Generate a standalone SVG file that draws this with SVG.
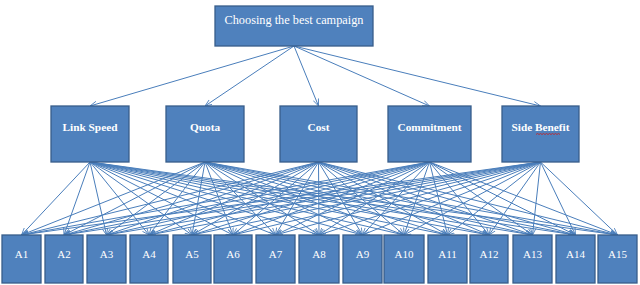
<svg xmlns="http://www.w3.org/2000/svg" width="640" height="285" viewBox="0 0 640 285">
<style>
.box{fill:#4f81bd;stroke:#385d8a;stroke-width:1.3}
.t{fill:#fff;font-family:"Liberation Serif","Times New Roman",serif;text-anchor:middle}
.top{font-size:12.3px}
.mid{font-size:11.3px;font-weight:bold}
.a{font-size:11px}
.c line{stroke:#4a7ebb;stroke-width:1;marker-end:url(#ah)}
</style>
<defs>
<marker id="ah" viewBox="0 0 10 10" refX="10" refY="5" markerWidth="7" markerHeight="7" orient="auto" markerUnits="userSpaceOnUse">
<path d="M0,1 L10,5 L0,9" fill="none" stroke="#4a7ebb" stroke-width="1.2"/>
</marker>
</defs>
<rect width="640" height="285" fill="#fff"/>
<g class="c" id="connectors">
<line x1="294" y1="46" x2="90" y2="106"/>
<line x1="294" y1="46" x2="205" y2="106"/>
<line x1="294" y1="46" x2="318.5" y2="106"/>
<line x1="294" y1="46" x2="429.5" y2="106"/>
<line x1="294" y1="46" x2="540.5" y2="106"/>
<line x1="90" y1="162" x2="21.5" y2="235"/><line x1="90" y1="162" x2="64" y2="235"/><line x1="90" y1="162" x2="106.5" y2="235"/><line x1="90" y1="162" x2="149" y2="235"/><line x1="90" y1="162" x2="192" y2="235"/><line x1="90" y1="162" x2="233" y2="235"/><line x1="90" y1="162" x2="275.5" y2="235"/><line x1="90" y1="162" x2="319" y2="235"/><line x1="90" y1="162" x2="362.5" y2="235"/><line x1="90" y1="162" x2="404" y2="235"/><line x1="90" y1="162" x2="447.5" y2="235"/><line x1="90" y1="162" x2="489" y2="235"/><line x1="90" y1="162" x2="532.5" y2="235"/><line x1="90" y1="162" x2="575.5" y2="235"/><line x1="90" y1="162" x2="617.5" y2="235"/>
<line x1="205" y1="162" x2="21.5" y2="235"/><line x1="205" y1="162" x2="64" y2="235"/><line x1="205" y1="162" x2="106.5" y2="235"/><line x1="205" y1="162" x2="149" y2="235"/><line x1="205" y1="162" x2="192" y2="235"/><line x1="205" y1="162" x2="233" y2="235"/><line x1="205" y1="162" x2="275.5" y2="235"/><line x1="205" y1="162" x2="319" y2="235"/><line x1="205" y1="162" x2="362.5" y2="235"/><line x1="205" y1="162" x2="404" y2="235"/><line x1="205" y1="162" x2="447.5" y2="235"/><line x1="205" y1="162" x2="489" y2="235"/><line x1="205" y1="162" x2="532.5" y2="235"/><line x1="205" y1="162" x2="575.5" y2="235"/><line x1="205" y1="162" x2="617.5" y2="235"/>
<line x1="318.5" y1="162" x2="21.5" y2="235"/><line x1="318.5" y1="162" x2="64" y2="235"/><line x1="318.5" y1="162" x2="106.5" y2="235"/><line x1="318.5" y1="162" x2="149" y2="235"/><line x1="318.5" y1="162" x2="192" y2="235"/><line x1="318.5" y1="162" x2="233" y2="235"/><line x1="318.5" y1="162" x2="275.5" y2="235"/><line x1="318.5" y1="162" x2="319" y2="235"/><line x1="318.5" y1="162" x2="362.5" y2="235"/><line x1="318.5" y1="162" x2="404" y2="235"/><line x1="318.5" y1="162" x2="447.5" y2="235"/><line x1="318.5" y1="162" x2="489" y2="235"/><line x1="318.5" y1="162" x2="532.5" y2="235"/><line x1="318.5" y1="162" x2="575.5" y2="235"/><line x1="318.5" y1="162" x2="617.5" y2="235"/>
<line x1="429.5" y1="162" x2="21.5" y2="235"/><line x1="429.5" y1="162" x2="64" y2="235"/><line x1="429.5" y1="162" x2="106.5" y2="235"/><line x1="429.5" y1="162" x2="149" y2="235"/><line x1="429.5" y1="162" x2="192" y2="235"/><line x1="429.5" y1="162" x2="233" y2="235"/><line x1="429.5" y1="162" x2="275.5" y2="235"/><line x1="429.5" y1="162" x2="319" y2="235"/><line x1="429.5" y1="162" x2="362.5" y2="235"/><line x1="429.5" y1="162" x2="404" y2="235"/><line x1="429.5" y1="162" x2="447.5" y2="235"/><line x1="429.5" y1="162" x2="489" y2="235"/><line x1="429.5" y1="162" x2="532.5" y2="235"/><line x1="429.5" y1="162" x2="575.5" y2="235"/><line x1="429.5" y1="162" x2="617.5" y2="235"/>
<line x1="540.5" y1="162" x2="21.5" y2="235"/><line x1="540.5" y1="162" x2="64" y2="235"/><line x1="540.5" y1="162" x2="106.5" y2="235"/><line x1="540.5" y1="162" x2="149" y2="235"/><line x1="540.5" y1="162" x2="192" y2="235"/><line x1="540.5" y1="162" x2="233" y2="235"/><line x1="540.5" y1="162" x2="275.5" y2="235"/><line x1="540.5" y1="162" x2="319" y2="235"/><line x1="540.5" y1="162" x2="362.5" y2="235"/><line x1="540.5" y1="162" x2="404" y2="235"/><line x1="540.5" y1="162" x2="447.5" y2="235"/><line x1="540.5" y1="162" x2="489" y2="235"/><line x1="540.5" y1="162" x2="532.5" y2="235"/><line x1="540.5" y1="162" x2="575.5" y2="235"/><line x1="540.5" y1="162" x2="617.5" y2="235"/>
</g>
<g id="goal"><rect class="box" x="215" y="6" width="158" height="40"/><text class="t top" x="294" y="24">Choosing the best campaign</text></g>
<g id="link-speed"><rect class="box" x="51" y="106" width="78" height="56"/><text class="t mid" x="90" y="131">Link Speed</text></g>
<g id="quota"><rect class="box" x="166" y="106" width="78" height="56"/><text class="t mid" x="205" y="131">Quota</text></g>
<g id="cost"><rect class="box" x="280" y="106" width="77" height="56"/><text class="t mid" x="318.5" y="131">Cost</text></g>
<g id="commitment"><rect class="box" x="388" y="106" width="83" height="56"/><text class="t mid" x="429.5" y="131">Commitment</text></g>
<g id="side-benefit"><rect class="box" x="502" y="106" width="77" height="56"/><text class="t mid" x="540.5" y="131">Side Benefit</text><path d="M536,134.5 l1.5,-1 l1.5,1 l1.5,-1 l1.5,1 l1.5,-1 l1.5,1 l1.5,-1 l1.5,1 l1.5,-1 l1.5,1 l1.5,-1 l1.5,1 l1.5,-1 l1.5,1 l1.5,-1 l1.5,1" fill="none" stroke="#c0282d" stroke-width="0.9"/></g>
<g id="A1"><rect class="box" x="2" y="235" width="39" height="48"/><text class="t a" x="21.5" y="258">A1</text></g>
<g id="A2"><rect class="box" x="45" y="235" width="38" height="48"/><text class="t a" x="64" y="258">A2</text></g>
<g id="A3"><rect class="box" x="87" y="235" width="39" height="48"/><text class="t a" x="106.5" y="258">A3</text></g>
<g id="A4"><rect class="box" x="130" y="235" width="38" height="48"/><text class="t a" x="149" y="258">A4</text></g>
<g id="A5"><rect class="box" x="173" y="235" width="38" height="48"/><text class="t a" x="192" y="258">A5</text></g>
<g id="A6"><rect class="box" x="214" y="235" width="38" height="48"/><text class="t a" x="233" y="258">A6</text></g>
<g id="A7"><rect class="box" x="256" y="235" width="39" height="48"/><text class="t a" x="275.5" y="258">A7</text></g>
<g id="A8"><rect class="box" x="299" y="235" width="40" height="48"/><text class="t a" x="319" y="258">A8</text></g>
<g id="A9"><rect class="box" x="343" y="235" width="39" height="48"/><text class="t a" x="362.5" y="258">A9</text></g>
<g id="A10"><rect class="box" x="384" y="235" width="40" height="48"/><text class="t a" x="404" y="258">A10</text></g>
<g id="A11"><rect class="box" x="428" y="235" width="39" height="48"/><text class="t a" x="447.5" y="258">A11</text></g>
<g id="A12"><rect class="box" x="470" y="235" width="38" height="48"/><text class="t a" x="489" y="258">A12</text></g>
<g id="A13"><rect class="box" x="513" y="235" width="39" height="48"/><text class="t a" x="532.5" y="258">A13</text></g>
<g id="A14"><rect class="box" x="556" y="235" width="39" height="48"/><text class="t a" x="575.5" y="258">A14</text></g>
<g id="A15"><rect class="box" x="598" y="235" width="39" height="48"/><text class="t a" x="617.5" y="258">A15</text></g>
</svg>
